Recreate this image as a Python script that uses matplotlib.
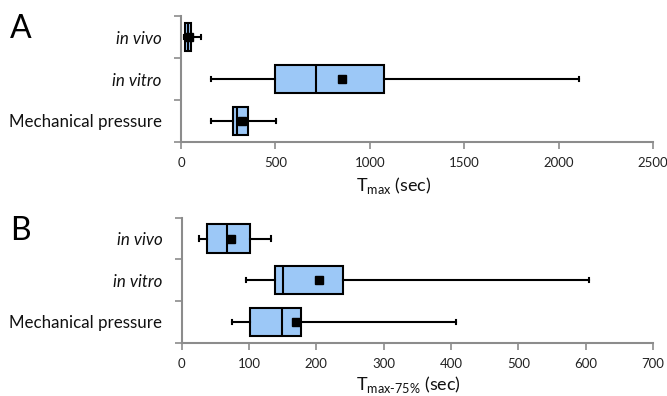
import matplotlib
matplotlib.use("Agg")
import matplotlib.pyplot as plt
from matplotlib.ticker import FixedLocator

plt.rcParams['font.family'] = ['Lato', 'DejaVu Sans']
plt.rcParams['mathtext.fontset'] = 'custom'
plt.rcParams['mathtext.rm'] = 'Lato'

categories = ['in vivo', 'in vitro', 'Mechanical pressure']
italic = [True, True, False]

# Panel A: T_max (sec)
a_whislo = [16, 159, 159]
a_q1 = [23, 500, 275]
a_med = [38, 713, 296]
a_q3 = [55, 1075, 355]
a_whishi = [104, 2108, 505]
a_mean = [43, 855, 325]
a_ticks = [0, 500, 1000, 1500, 2000, 2500]

# Panel B: T_max-75% (sec)
b_whislo = [26, 95, 75]
b_q1 = [37, 139, 101]
b_med = [68, 150, 149]
b_q3 = [101, 240, 177]
b_whishi = [132, 605, 407]
b_mean = [73, 204, 170]
b_ticks = [0, 100, 200, 300, 400, 500, 600, 700]

W, H = 667, 396
fig = plt.figure(figsize=(W / 100, H / 100), dpi=100)

BOX = '#9cc8f7'
AX = '#8c8c8c'


def panel(rect, lo, q1, med, q3, hi, mean, ticks):
    ax = fig.add_axes(rect)
    stats = []
    for i in range(len(categories)):
        stats.append(dict(whislo=lo[i], q1=q1[i], med=med[i], q3=q3[i],
                          whishi=hi[i], mean=mean[i], fliers=[]))
    ax.bxp(stats, positions=[1, 2, 3], widths=0.68, vert=False,
           patch_artist=True, showmeans=True, showfliers=False,
           boxprops=dict(facecolor=BOX, edgecolor='black', linewidth=1.5),
           medianprops=dict(color='black', linewidth=1.5),
           whiskerprops=dict(color='black', linewidth=1.5),
           capprops=dict(color='black', linewidth=1.5),
           meanprops=dict(marker='s', markerfacecolor='black',
                          markeredgecolor='black', markersize=6),
           capwidths=0.1)
    ax.set_ylim(3.5, 0.5)
    ax.set_xlim(ticks[0], ticks[-1])
    ax.set_xticks(ticks)
    ax.set_xticklabels([str(t) for t in ticks], fontsize=9.5, color='#222222')
    ax.set_yticks([1, 2, 3])
    ax.set_yticklabels(categories, fontsize=12.2, color='#111111')
    for lab, it in zip(ax.get_yticklabels(), italic):
        if it:
            lab.set_style('italic')
    ax.yaxis.set_minor_locator(FixedLocator([0.5, 1.5, 2.5, 3.5]))
    ax.tick_params(axis='y', which='major', length=0, pad=14)
    ax.tick_params(axis='y', which='minor', length=5, color=AX, width=1.2)
    ax.tick_params(axis='x', length=5, color=AX, width=1.2, pad=6)
    for s in ['top', 'right']:
        ax.spines[s].set_visible(False)
    for s in ['left', 'bottom']:
        ax.spines[s].set_color(AX)
        ax.spines[s].set_linewidth(1.5)
    return ax


panel([181 / W, 1 - 142 / H, 472 / W, 126 / H],
      a_whislo, a_q1, a_med, a_q3, a_whishi, a_mean, a_ticks)
panel([181.7 / W, 1 - 342.7 / H, 471.3 / W, 125 / H],
      b_whislo, b_q1, b_med, b_q3, b_whishi, b_mean, b_ticks)

fig.text(10 / W, 1 - 38 / H, 'A', fontsize=23, color='black', ha='left', va='baseline')
fig.text(10 / W, 1 - 240 / H, 'B', fontsize=23, color='black', ha='left', va='baseline')
fig.text(356 / W, 1 - 191 / H, r'T$_{\mathregular{max}}$ (sec)', fontsize=13,
         ha='left', va='baseline', color='#111111')
fig.text(356 / W, 1 - 390 / H, r'T$_{\mathregular{max\text{-}75\%}}$ (sec)', fontsize=13,
         ha='left', va='baseline', color='#111111')

fig.savefig('out.png', dpi=100)
